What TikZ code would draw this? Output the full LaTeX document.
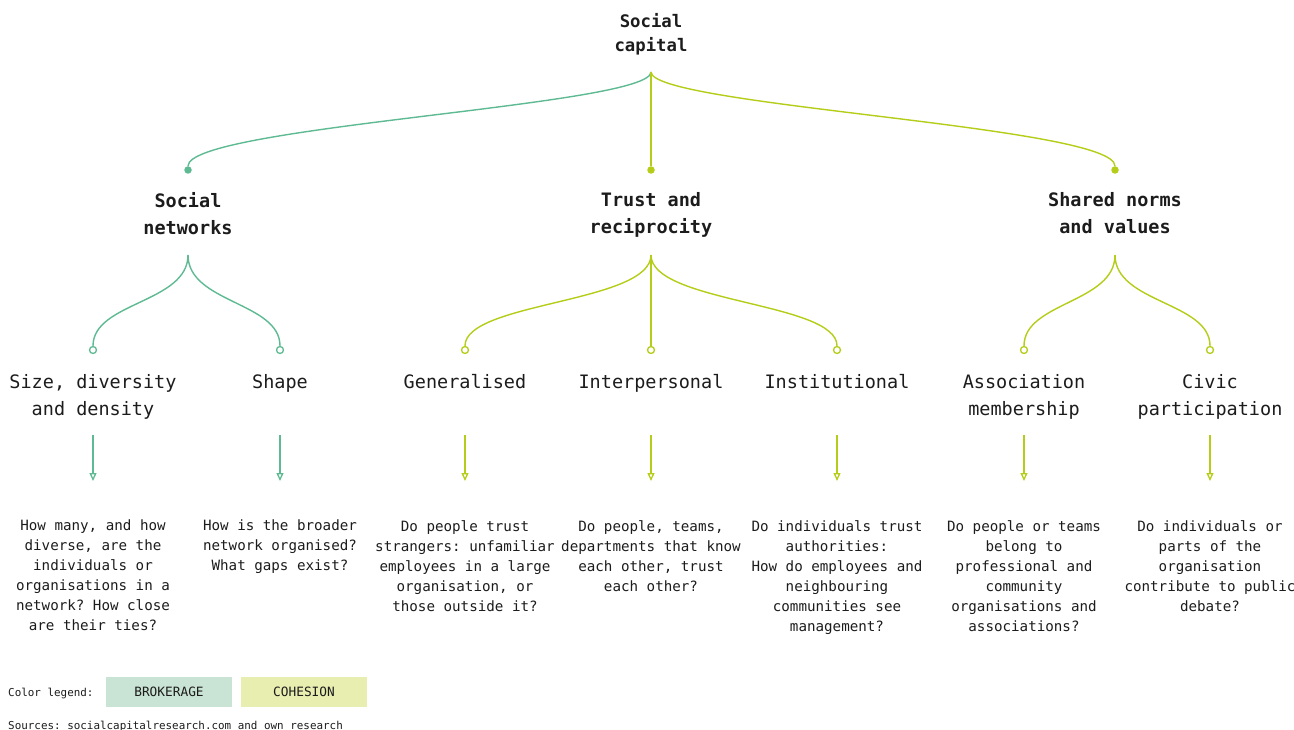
\documentclass[tikz,border=0pt]{standalone}
\usepackage{fontspec}
\setmonofont{DejaVu Sans Mono}
\usetikzlibrary{arrows.meta}
\definecolor{broker}{RGB}{94,186,146}
\definecolor{cohesion}{RGB}{181,204,24}
\definecolor{brokerfill}{RGB}{201,228,212}
\definecolor{cohesionfill}{RGB}{232,237,176}
\definecolor{ink}{RGB}{28,28,28}
\begin{document}
\begin{tikzpicture}[x=1pt,y=-1pt,
		every node/.style={inner sep=0pt, text=ink, font=\ttfamily},
		rootlabel/.style={anchor=north, align=center, font=\ttfamily\bfseries\fontsize{17.3}{24}\selectfont},
		mainlabel/.style={anchor=north, align=center, font=\ttfamily\bfseries\fontsize{18.5}{27}\selectfont},
		sublabel/.style={anchor=north, align=center, font=\ttfamily\fontsize{18.5}{27}\selectfont},
		question/.style={anchor=north, align=center, font=\ttfamily\fontsize{14.2}{20}\selectfont},
		fulldot/.style={circle, minimum size=7.5pt, fill=#1},
		opendot/.style={circle, minimum size=7pt, draw=#1, fill=white, line width=1.3pt},
		link/.style={draw=#1, line width=1.4pt},
		down/.style={draw=#1, line width=1.3pt, -{Triangle[open, length=8pt, width=7pt, fill=white]}},
		legendbox/.style={minimum width=126pt, minimum height=30pt, fill=#1, font=\ttfamily\fontsize{12.8}{14}\selectfont}]
		\useasboundingbox (0,0) rectangle (1294,730);
		\def \toprow{ 192 };
		\def \subrow{ 374 };
		\def \qrow{ 520 };
		% root
		\node[rootlabel] (root) at (651,13) {Social\\capital};
		\coordinate (root-c) at (651,72);
		% first level
		\node[fulldot=broker] (sn-dot) at (188,170) {};
		\node[fulldot=cohesion] (tr-dot) at (651,170) {};
		\node[fulldot=cohesion] (sh-dot) at (1115,170) {};
		\draw[link=broker] (root-c) .. controls +(0,34) and +(0,-44) .. (sn-dot);
		\draw[link=cohesion] (root-c) -- (tr-dot);
		\draw[link=cohesion] (root-c) .. controls +(0,34) and +(0,-44) .. (sh-dot);
		\node[mainlabel] (sn) at (188,\toprow) {Social\\networks};
		\node[mainlabel] (tr) at (651,\toprow) {Trust and\\reciprocity};
		\node[mainlabel] (sh) at (1115,\toprow) {Shared norms\\and values};
		\coordinate (sn-c) at (188,255);
		\coordinate (tr-c) at (651,255);
		\coordinate (sh-c) at (1115,255);
		% second level
		\node[opendot=broker] (size-dot) at (93,350) {};
		\node[opendot=broker] (shape-dot) at (280,350) {};
		\node[opendot=cohesion] (gen-dot) at (465,350) {};
		\node[opendot=cohesion] (inter-dot) at (651,350) {};
		\node[opendot=cohesion] (inst-dot) at (837,350) {};
		\node[opendot=cohesion] (assoc-dot) at (1024,350) {};
		\node[opendot=cohesion] (civic-dot) at (1210,350) {};
		\draw[link=broker] (sn-c) .. controls +(0,48) and +(0,-48) .. (size-dot);
		\draw[link=broker] (sn-c) .. controls +(0,48) and +(0,-48) .. (shape-dot);
		\draw[link=cohesion] (tr-c) .. controls +(0,48) and +(0,-48) .. (gen-dot);
		\draw[link=cohesion] (tr-c) -- (inter-dot);
		\draw[link=cohesion] (tr-c) .. controls +(0,48) and +(0,-48) .. (inst-dot);
		\draw[link=cohesion] (sh-c) .. controls +(0,48) and +(0,-48) .. (assoc-dot);
		\draw[link=cohesion] (sh-c) .. controls +(0,48) and +(0,-48) .. (civic-dot);
		\node[sublabel] (size) at (93,\subrow) {Size, diversity\\and density};
		\node[sublabel] (shape) at (280,\subrow) {Shape};
		\node[sublabel] (gen) at (465,\subrow) {Generalised};
		\node[sublabel] (inter) at (651,\subrow) {Interpersonal};
		\node[sublabel] (inst) at (837,\subrow) {Institutional};
		\node[sublabel] (assoc) at (1024,\subrow) {Association\\membership};
		\node[sublabel] (civic) at (1210,\subrow) {Civic\\participation};
		% arrows to the questions
		\coordinate (size-a) at (93,435);   \coordinate (size-b) at (93,481);
		\coordinate (shape-a) at (280,435);  \coordinate (shape-b) at (280,481);
		\coordinate (gen-a) at (465,435);    \coordinate (gen-b) at (465,481);
		\coordinate (inter-a) at (651,435);  \coordinate (inter-b) at (651,481);
		\coordinate (inst-a) at (837,435);   \coordinate (inst-b) at (837,481);
		\coordinate (assoc-a) at (1024,435); \coordinate (assoc-b) at (1024,481);
		\coordinate (civic-a) at (1210,435); \coordinate (civic-b) at (1210,481);
		\draw[down=broker] (size-a) -- (size-b);
		\draw[down=broker] (shape-a) -- (shape-b);
		\draw[down=cohesion] (gen-a) -- (gen-b);
		\draw[down=cohesion] (inter-a) -- (inter-b);
		\draw[down=cohesion] (inst-a) -- (inst-b);
		\draw[down=cohesion] (assoc-a) -- (assoc-b);
		\draw[down=cohesion] (civic-a) -- (civic-b);
		% questions
		\node[question] (size-q) at (93,\qrow) {How many, and how\\diverse, are the\\individuals or\\organisations in a\\network? How close\\are their ties?};
		\node[question] (shape-q) at (280,\qrow) {How is the broader\\network organised?\\What gaps exist?};
		\node[question] (gen-q) at (465,\qrow) {Do people trust\\strangers: unfamiliar\\employees in a large\\organisation, or\\those outside it?};
		\node[question] (inter-q) at (651,\qrow) {Do people, teams,\\departments that know\\each other, trust\\each other?};
		\node[question] (inst-q) at (837,\qrow) {Do individuals trust\\authorities:\\How do employees and\\neighbouring\\communities see\\management?};
		\node[question] (assoc-q) at (1024,\qrow) {Do people or teams\\belong to\\professional and\\community\\organisations and\\associations?};
		\node[question] (civic-q) at (1210,\qrow) {Do individuals or\\parts of the\\organisation\\contribute to public\\debate?};
		% legend
		\node[anchor=base west, font=\ttfamily\fontsize{10.9}{13}\selectfont] (legend) at (8,696) {Color legend:};
		\node[legendbox=brokerfill] (brokerage) at (169,692) {BROKERAGE};
		\node[legendbox=cohesionfill] (cohesion) at (304,692) {COHESION};
		\node[anchor=base west, font=\ttfamily\fontsize{10.9}{13}\selectfont] (sources) at (8,729) {Sources: socialcapitalresearch.com and own research};
	\end{tikzpicture}
\end{document}
